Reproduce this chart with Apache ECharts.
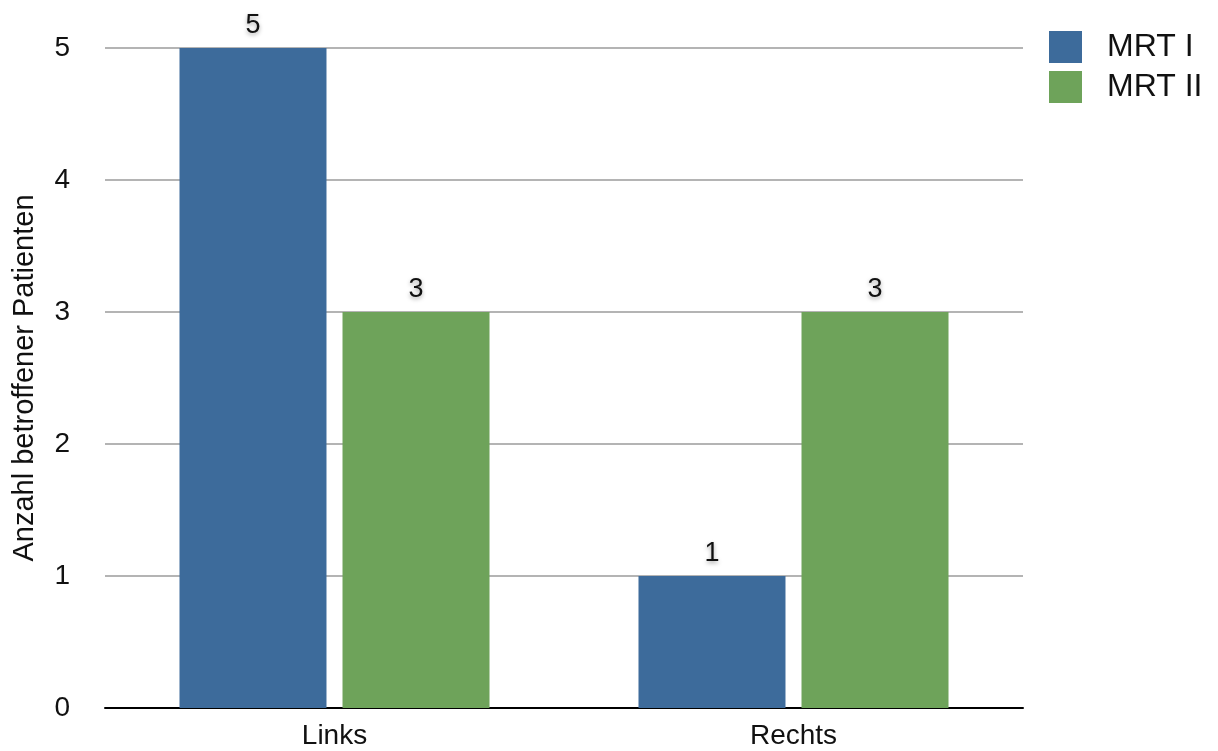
<!DOCTYPE html>
<html>
<head>
<meta charset="utf-8">
<script src="https://cdn.jsdelivr.net/npm/echarts@6/dist/echarts.min.js"></script>
<style>html,body{margin:0;padding:0;background:#fff}#c{width:1218px;height:751px}</style>
</head>
<body>
<div id="c"></div>
<script>
const categories = ['Links', 'Rechts'];
const mrt1 = [5, 1];
const mrt2 = [3, 3];
const seriesNames = ['MRT I', 'MRT II'];
const yTicks = [0, 1, 2, 3, 4, 5];

const font = 'Liberation Sans, Helvetica, Arial, sans-serif';
const labelStyle = {
  show: true, position: 'top', distance: 9,
  fontFamily: font, fontSize: 27, color: '#111',
  textShadowColor: 'rgba(0,0,0,0.35)', textShadowBlur: 4, textShadowOffsetY: 2
};
const chart = echarts.init(document.getElementById('c'), null, {renderer: 'canvas'});
chart.setOption({
  animation: false,
  grid: {left: 105, right: 195, top: 48, bottom: 43, containLabel: false},
  legend: {
    left: 1049, top: 31, padding: 0, orient: 'vertical', itemWidth: 33, itemHeight: 32, itemGap: 8,
    icon: 'rect',
    textStyle: {fontFamily: font, fontSize: 32, color: '#111', padding: [0, 0, 0, 20]},
    data: seriesNames
  },
  xAxis: {
    type: 'category', data: categories,
    axisLine: {lineStyle: {color: '#000', width: 2}},
    axisTick: {show: false},
    axisLabel: {fontFamily: font, fontSize: 28, color: '#111', margin: 14}
  },
  yAxis: {
    type: 'value', min: yTicks[0], max: yTicks[yTicks.length - 1], interval: 1,
    name: 'Anzahl betroffener Patienten', nameLocation: 'middle', nameGap: 66, nameRotate: 90,
    nameTextStyle: {fontFamily: font, fontSize: 29, color: '#111'},
    axisLine: {show: false}, axisTick: {show: false},
    axisLabel: {fontFamily: font, fontSize: 28, color: '#111', margin: 35},
    splitLine: {lineStyle: {color: '#b4b4b4', width: 2}}
  },
  series: [
    {name: seriesNames[0], type: 'bar', data: mrt1, barWidth: 147, barGap: '10.9%',
     itemStyle: {color: '#3d6b9b'}, label: labelStyle},
    {name: seriesNames[1], type: 'bar', data: mrt2, barWidth: 147, barGap: '10.9%',
     itemStyle: {color: '#6ea35a'}, label: labelStyle}
  ]
});
</script>
</body>
</html>
